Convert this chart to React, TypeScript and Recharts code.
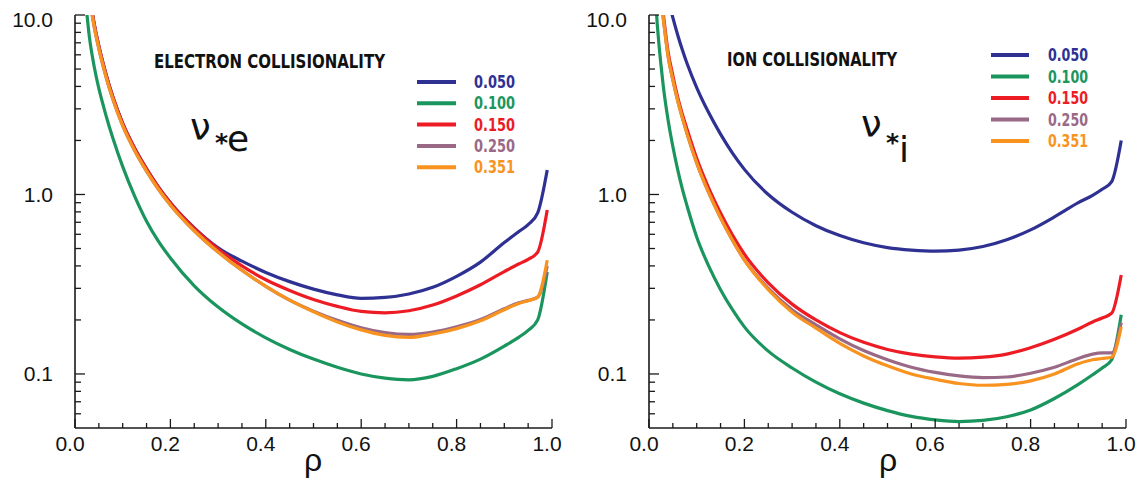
import React from 'react';
import { LineChart, Line, XAxis, YAxis } from 'recharts';

// ---------- series meta ----------
const seriesLabels = ['0.050', '0.100', '0.150', '0.250', '0.351'];
const seriesColors = ['#2e3192', '#1b955e', '#ed1c24', '#9a6986', '#f7931e'];
const seriesKeys = ['s050', 's100', 's150', 's250', 's351'];

// ---------- electron collisionality (left panel) ----------
const rhoE = [0.02, 0.03, 0.04, 0.05, 0.06, 0.07, 0.08, 0.1, 0.125, 0.15, 0.175, 0.2, 0.25, 0.3, 0.35, 0.4, 0.45, 0.5, 0.55, 0.6, 0.65, 0.7, 0.75, 0.8, 0.85, 0.9, 0.93, 0.95, 0.97, 0.99];
const eS050 = [25, 13.2, 9.0, 6.7, 5.23, 4.19, 3.46, 2.49, 1.81, 1.39, 1.1, 0.9, 0.652, 0.505, 0.425, 0.368, 0.327, 0.297, 0.276, 0.264, 0.267, 0.279, 0.304, 0.35, 0.42, 0.54, 0.62, 0.68, 0.79, 1.37];
const eS100 = [14, 7.6, 5.2, 3.9, 3.08, 2.48, 2.04, 1.43, 0.98, 0.71, 0.548, 0.443, 0.31, 0.236, 0.19, 0.159, 0.137, 0.121, 0.109, 0.1, 0.0948, 0.0928, 0.097, 0.107, 0.121, 0.143, 0.16, 0.175, 0.2, 0.37];
const eS150 = [25, 13.2, 9.0, 6.7, 5.23, 4.19, 3.46, 2.49, 1.81, 1.39, 1.1, 0.9, 0.648, 0.497, 0.4, 0.335, 0.292, 0.26, 0.238, 0.223, 0.219, 0.225, 0.242, 0.272, 0.314, 0.372, 0.41, 0.435, 0.478, 0.82];
const eS250 = [24, 12.8, 8.7, 6.5, 5.08, 4.07, 3.36, 2.42, 1.76, 1.35, 1.07, 0.875, 0.628, 0.478, 0.378, 0.308, 0.258, 0.224, 0.199, 0.181, 0.17, 0.166, 0.171, 0.183, 0.201, 0.231, 0.249, 0.257, 0.268, 0.4];
const eS351 = [24, 12.8, 8.7, 6.5, 5.08, 4.07, 3.36, 2.42, 1.76, 1.35, 1.07, 0.875, 0.628, 0.478, 0.378, 0.308, 0.258, 0.222, 0.195, 0.176, 0.164, 0.16, 0.167, 0.179, 0.198, 0.228, 0.247, 0.256, 0.268, 0.43];

// ---------- ion collisionality (right panel) ----------
const rhoI = [0.01, 0.016, 0.02, 0.025, 0.03, 0.04, 0.05, 0.06, 0.07, 0.08, 0.1, 0.125, 0.15, 0.175, 0.2, 0.25, 0.3, 0.35, 0.4, 0.45, 0.5, 0.55, 0.6, 0.65, 0.7, 0.75, 0.8, 0.85, 0.9, 0.93, 0.95, 0.97, 0.99];
const iS050 = [60, 37, 29, 22, 17.5, 12.3, 9.66, 7.76, 6.38, 5.35, 3.94, 2.86, 2.17, 1.7, 1.38, 1.0, 0.796, 0.67, 0.59, 0.538, 0.506, 0.49, 0.483, 0.49, 0.513, 0.56, 0.635, 0.75, 0.9, 0.99, 1.07, 1.18, 2.0];
const iS100 = [25, 10, 7.3, 5.3, 4.0, 2.6, 1.85, 1.38, 1.07, 0.86, 0.58, 0.4, 0.295, 0.228, 0.183, 0.134, 0.108, 0.09, 0.0775, 0.0688, 0.0625, 0.058, 0.0555, 0.0543, 0.0551, 0.0578, 0.063, 0.073, 0.0875, 0.099, 0.108, 0.12, 0.214];
const iS150 = [42, 24, 17.5, 13, 10.1, 6.25, 4.6, 3.5, 2.8, 2.3, 1.59, 1.09, 0.79, 0.595, 0.465, 0.322, 0.245, 0.2, 0.17, 0.15, 0.137, 0.129, 0.1245, 0.1225, 0.124, 0.129, 0.14, 0.156, 0.178, 0.195, 0.205, 0.218, 0.356];
const iS250 = [40, 22.5, 16.5, 12.3, 9.55, 5.9, 4.35, 3.35, 2.67, 2.17, 1.5, 1.026, 0.741, 0.556, 0.432, 0.3, 0.228, 0.188, 0.157, 0.135, 0.12, 0.109, 0.102, 0.0975, 0.0955, 0.0962, 0.101, 0.109, 0.122, 0.129, 0.131, 0.131, 0.193];
const iS351 = [40, 22.5, 16.5, 12.3, 9.55, 5.9, 4.35, 3.35, 2.67, 2.17, 1.5, 1.026, 0.741, 0.556, 0.4315, 0.295, 0.221, 0.18, 0.148, 0.126, 0.111, 0.1, 0.0935, 0.0885, 0.0865, 0.0875, 0.0915, 0.1, 0.114, 0.12, 0.122, 0.124, 0.183];

// ---------- axis ticks ----------
const xTicks = [0, 0.05, 0.1, 0.15, 0.2, 0.25, 0.3, 0.35, 0.4, 0.45, 0.5, 0.55, 0.6, 0.65, 0.7, 0.75, 0.8, 0.85, 0.9, 0.95, 1];
const xMajor = [0, 0.2, 0.4, 0.6, 0.8, 1];
const xTickLabels = ['0.0', '0.2', '0.4', '0.6', '0.8', '1.0'];
const yTicks = [0.06, 0.07, 0.08, 0.09, 0.1, 0.2, 0.3, 0.4, 0.5, 0.6, 0.7, 0.8, 0.9, 1, 2, 3, 4, 5, 6, 7, 8, 9, 10];
const yMajor = [0.1, 1, 10];
const yTickLabels = ['0.1', '1.0', '10.0'];
const yDomain: [number, number] = [0.05, 10];

const panelTitles = ['ELECTRON COLLISIONALITY', 'ION COLLISIONALITY'];
const xAxisTitle = 'ρ';

const buildRows = (rho: number[], cols: number[][]) =>
  rho.map((r, i) => {
    const row: Record<string, number> = { rho: r };
    cols.forEach((c, k) => { row[seriesKeys[k]] = c[i]; });
    return row;
  });

const eRows = buildRows(rhoE, [eS050, eS100, eS150, eS250, eS351]);
const iRows = buildRows(rhoI, [iS050, iS100, iS150, iS250, iS351]);

const AX = '#1a1a1a';
const TICKFONT = "'Liberation Sans', Arial, Helvetica, sans-serif";
const NARROW = "'Liberation Sans Narrow', 'DejaVu Sans Condensed', 'Liberation Sans', sans-serif";
const GREEK = "'DejaVu Sans', sans-serif";

const idxOf = (arr: number[], v: number) => arr.findIndex((m) => Math.abs(m - v) < 1e-9);

const BottomTick = (p: any) => {
  const { x, y, payload } = p;
  const k = idxOf(xMajor, payload.value);
  const major = k >= 0;
  return (
    <g>
      <line x1={x} x2={x} y1={y} y2={y - (major ? 9 : 5)} stroke={AX} strokeWidth={1.3} />
      {major && (
        <text x={x - 5} y={y + 23} textAnchor="middle" fontSize={21} fontFamily={TICKFONT} fill="#111">
          {xTickLabels[k]}
        </text>
      )}
    </g>
  );
};

const TopTick = (p: any) => {
  const { x, y, payload } = p;
  const major = idxOf(xMajor, payload.value) >= 0;
  return <line x1={x} x2={x} y1={y} y2={y + (major ? 9 : 5)} stroke={AX} strokeWidth={1.3} />;
};

const LeftTick = (p: any) => {
  const { x, y, payload } = p;
  const k = idxOf(yMajor, payload.value);
  const major = k >= 0;
  return (
    <g>
      <line x1={x} x2={x + (major ? 10 : 6)} y1={y} y2={y} stroke={AX} strokeWidth={1.3} />
      {major && (
        <text x={x - 22} y={y + 7.5 + (k === 2 ? 4 : 0)} textAnchor="end" fontSize={21} fontFamily={TICKFONT} fill="#111">
          {yTickLabels[k]}
        </text>
      )}
    </g>
  );
};

const RightTick = (p: any) => {
  const { x, y, payload } = p;
  const major = idxOf(yMajor, payload.value) >= 0;
  return <line x1={x} x2={x - (major ? 10 : 6)} y1={y} y2={y} stroke={AX} strokeWidth={1.3} />;
};

const axisLineStyle = { stroke: AX, strokeWidth: 1.6 };

const Panel = ({ rows, yWidth, width, right }: { rows: any[]; yWidth: number; width: number; right: number }) => (
  <LineChart width={width} height={480} data={rows} margin={{ top: 15, right, bottom: 0, left: 0 }}>
    <XAxis xAxisId="top" orientation="top" dataKey="rho" type="number" domain={[0, 1]} allowDataOverflow
      ticks={xTicks} interval={0} height={0} tickSize={0} tickMargin={0} tickLine={false}
      tick={<TopTick />} axisLine={axisLineStyle} />
    <XAxis dataKey="rho" type="number" domain={[0, 1]} allowDataOverflow ticks={xTicks} interval={0}
      height={52} tickSize={0} tickMargin={0} tickLine={false} tick={<BottomTick />} axisLine={axisLineStyle} />
    <YAxis yAxisId="right" orientation="right" type="number" scale="log" domain={yDomain} allowDataOverflow
      ticks={yTicks} interval={0} width={0} tickSize={0} tickMargin={0} tickLine={false}
      tick={<RightTick />} axisLine={axisLineStyle} />
    <YAxis type="number" scale="log" domain={yDomain} allowDataOverflow ticks={yTicks} interval={0}
      width={yWidth} tickSize={0} tickMargin={0} tickLine={false} tick={<LeftTick />} axisLine={axisLineStyle} />
    {seriesKeys.map((k, i) => (
      <Line key={k} dataKey={k} type="monotone" stroke={seriesColors[i]} strokeWidth={3.2}
        dot={false} activeDot={false} isAnimationActive={false} strokeLinejoin="round" />
    ))}
  </LineChart>
);

const Legend = ({ x0, x1, tx, base, step, fs, tl }: any) => (
  <g>
    {seriesLabels.map((lab, i) => {
      const by = base + i * step;
      return (
        <g key={lab}>
          <line x1={x0} x2={x1} y1={by - 6} y2={by - 6} stroke={seriesColors[i]} strokeWidth={4} />
          <text x={tx} y={by} fontSize={fs} fontWeight="bold" fontFamily={NARROW} fill={seriesColors[i]}
            textLength={tl} lengthAdjust="spacingAndGlyphs">{lab}</text>
        </g>
      );
    })}
  </g>
);

export default function App() {
  return (
    <div style={{ position: 'absolute', left: 0, top: 0, width: 1143, height: 480, background: '#fff' }}>
      <div style={{ position: 'absolute', left: 0, top: 0 }}>
        <Panel rows={eRows} yWidth={75} width={575} right={23} />
      </div>
      <div style={{ position: 'absolute', left: 575, top: 0 }}>
        <Panel rows={iRows} yWidth={74} width={568} right={17} />
      </div>
      <svg width={1143} height={480} style={{ position: 'absolute', left: 0, top: 0, pointerEvents: 'none' }}>
        <text x={154} y={68} fontSize={19} fontWeight="bold" fontFamily={NARROW} fill="#111"
          textLength={231} lengthAdjust="spacingAndGlyphs">{panelTitles[0]}</text>
        <text x={727} y={66} fontSize={19} fontWeight="bold" fontFamily={NARROW} fill="#111"
          textLength={170} lengthAdjust="spacingAndGlyphs">{panelTitles[1]}</text>

        <text x={190} y={140} fontSize={37} fontFamily={GREEK} fill="#111">ν</text>
        <text x={215} y={151} fontSize={25} fontWeight="bold" fontFamily={GREEK} fill="#111">*</text>
        <text x={227} y={151} fontSize={36} fontFamily={GREEK} fill="#111">e</text>

        <text x={861} y={137} fontSize={37} fontFamily={GREEK} fill="#111">ν</text>
        <text x={886} y={151} fontSize={25} fontWeight="bold" fontFamily={GREEK} fill="#111">*</text>
        <text x={899} y={162} fontSize={36} fontFamily={GREEK} fill="#111">i</text>

        <Legend x0={417} x1={456} tx={474} base={88} step={21.3} fs={18} tl={41} />
        <Legend x0={991} x1={1029} tx={1048} base={61} step={21.5} fs={17} tl={40} />

        <text x={313} y={471} textAnchor="middle" fontSize={32} fontFamily={TICKFONT} fill="#111">{xAxisTitle}</text>
        <text x={888} y={471} textAnchor="middle" fontSize={32} fontFamily={TICKFONT} fill="#111">{xAxisTitle}</text>
      </svg>
    </div>
  );
}
